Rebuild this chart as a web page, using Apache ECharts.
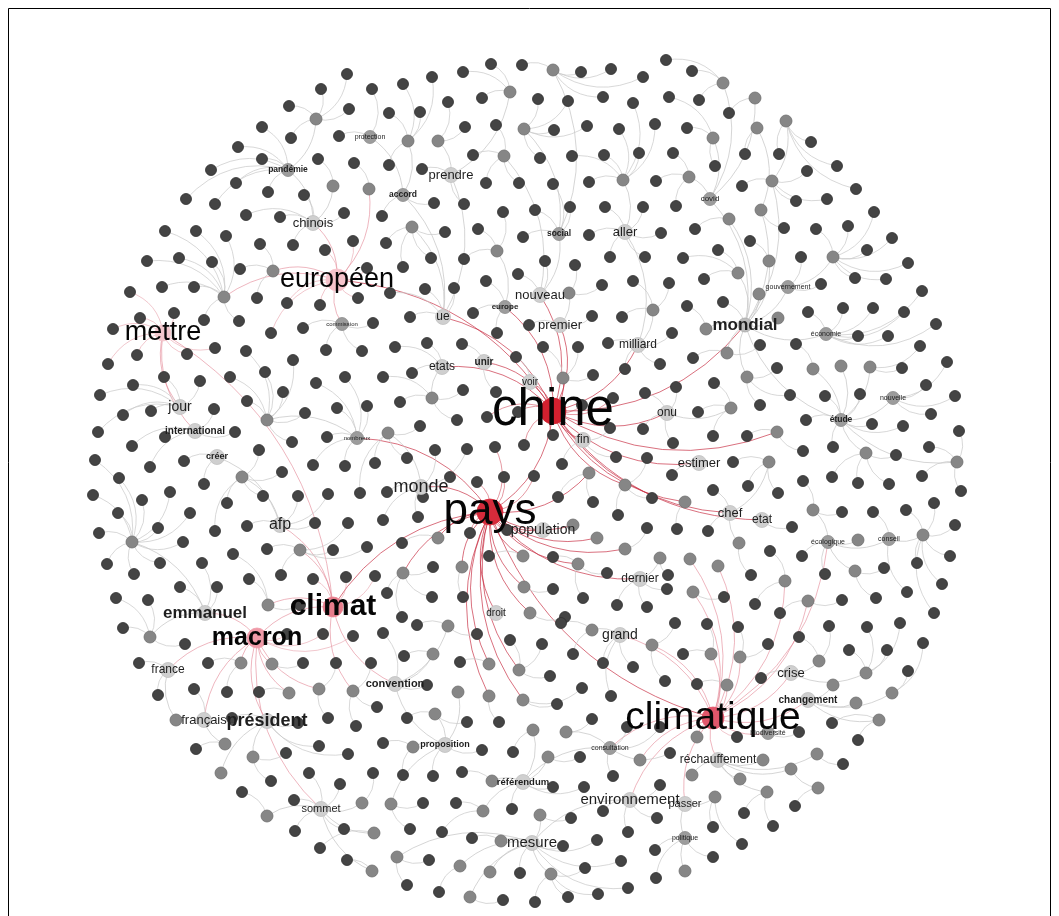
<!DOCTYPE html>
<html><head><meta charset="utf-8">
<script src="https://cdn.jsdelivr.net/npm/echarts@6/dist/echarts.min.js"></script>
<style>html,body{margin:0;padding:0;background:#fff}#c{width:1059px;height:916px}</style>
</head><body><div id="c"></div>
<script>
// Named nodes (hubs + grey relay nodes): [id, x, y, parent]
const namedNodes = [
['chine',553,411,'pays'],['pays',490,512,null],['climatique',713,718,'pays'],['climat',333,607,'pays'],
['macron',257,638,'climat'],['européen',337,280,'chine'],['mettre',163,333,'climat'],['mondial',745,325,'chine'],
['g1',316,119,'pandémie'],['protection',370,137,'accord'],['pandémie',288,170,'chinois'],['g2',333,186,'chinois'],
['g3',369,189,'européen'],['chinois',313,223,'européen'],['g4',273,271,'européen'],['g5',224,297,'européen'],
['commission',342,324,'européen'],['g6',553,70,'social'],['g7',510,92,'prendre'],['g8',524,129,'social'],
['g9',408,141,'accord'],['g10',438,141,'prendre'],['g11',504,156,'nouveau'],['prendre',451,175,'ue'],
['g12',623,180,'aller'],['accord',403,195,'ue'],['g13',412,227,'ue'],['social',559,234,'nouveau'],
['aller',625,232,'milliard'],['g14',497,251,'europe'],['nouveau',540,295,'chine'],['g15',569,293,'premier'],
['europe',505,307,'chine'],['ue',443,317,'chine'],['premier',560,325,'chine'],['g16',653,310,'milliard'],
['milliard',638,345,'chine'],['g17',723,83,'covid'],['g18',755,98,'covid'],['g19',713,138,'covid'],
['g20',757,128,'g24'],['g21',786,121,'g23'],['g22',689,177,'covid'],['g23',772,181,'mondial'],
['covid',710,199,'mondial'],['g24',761,210,'mondial'],['g25',729,219,'mondial'],['g26',769,261,'mondial'],
['g27',833,257,'gouvernement'],['g28',738,273,'mondial'],['gouvernement',788,287,'mondial'],['g29',759,294,'mondial'],
['g30',778,318,'mondial'],['g31',706,329,'mondial'],['économie',826,334,'mondial'],
['jour',180,407,'mettre'],['g32',267,420,'nombreux'],['international',195,431,'mettre'],['nombreux',357,438,'pays'],
['créer',217,457,'afp'],['g33',242,477,'afp'],['gA',132,542,'emmanuel'],['afp',280,525,'climat'],
['g34',300,550,'climat'],['g35',268,605,'climat'],['emmanuel',205,613,'macron'],
['unir',484,362,'chine'],['etats',442,367,'chine'],['voir',530,382,'chine'],['g36',563,378,'chine'],
['g37',432,398,'etats'],['onu',667,413,'chine'],['g38',388,433,'monde'],['fin',583,440,'chine'],
['g39',589,473,'pays'],['g40',625,485,'chine'],['monde',421,487,'pays'],['population',543,530,'pays'],
['g41',573,525,'pays'],['g42',438,538,'pays'],['g43',597,538,'pays'],['g44',625,549,'pays'],
['g45',660,558,'dernier'],['g46',403,573,'pays'],['g47',462,567,'pays'],['g48',523,556,'pays'],
['g49',578,564,'pays'],['dernier',640,579,'pays'],['g50',524,587,'pays'],['droit',496,613,'pays'],['g51',530,613,'pays'],
['g52',727,353,'mondial'],['g53',813,369,'étude'],['g54',841,366,'étude'],['g55',870,367,'étude'],
['nouvelle',893,398,'étude'],['g56',747,377,'mondial'],['g57',731,408,'onu'],['étude',841,420,'mondial'],
['g58',777,432,'chine'],['g59',866,453,'étude'],['g60',957,462,'étude'],['estimer',699,463,'chine'],
['g61',769,462,'chef'],['g62',685,502,'chine'],['g63',813,510,'écologique'],['chef',730,513,'chine'],
['etat',762,520,'chine'],['g64',923,535,'conseil'],['écologique',828,542,'climatique'],['g65',858,540,'écologique'],
['conseil',889,539,'écologique'],['g66',739,543,'chef'],['g67',690,559,'climatique'],['g68',718,566,'climatique'],
['g69',855,571,'écologique'],['g70',785,581,'climatique'],['g71',693,592,'climatique'],['g72',808,601,'climatique'],
['g73',150,637,'emmanuel'],['france',168,670,'macron'],['g74',241,663,'macron'],['g75',272,664,'macron'],
['g76',289,693,'macron'],['g77',319,689,'macron'],['g78',353,691,'climat'],['g79',176,720,'france'],
['français',204,720,'macron'],['président',267,721,'macron'],['g80',225,744,'français'],['g81',253,757,'président'],
['g82',221,773,'président'],['g83',267,816,'sommet'],['sommet',321,809,'macron'],['g84',362,803,'sommet'],
['g85',374,833,'sommet'],['g86',372,871,'sommet'],
['g87',448,626,'convention'],['g88',592,630,'grand'],['grand',620,635,'climatique'],['g89',652,645,'climatique'],
['g90',433,654,'convention'],['g91',489,664,'pays'],['g92',519,670,'pays'],['convention',395,684,'climat'],
['g93',458,692,'proposition'],['g94',489,696,'pays'],['g95',523,700,'pays'],['g96',435,714,'proposition'],
['g97',533,730,'référendum'],['g98',566,732,'consultation'],['g99',413,747,'proposition'],['proposition',445,745,'convention'],
['g100',548,757,'référendum'],['consultation',610,748,'climatique'],['g101',640,760,'climatique'],['g102',492,781,'référendum'],
['référendum',523,782,'consultation'],['g103',391,804,'proposition'],['g104',483,811,'référendum'],['g105',540,815,'mesure'],
['environnement',630,800,'climatique'],['g106',501,841,'mesure'],['mesure',532,843,'environnement'],['g107',397,857,'mesure'],
['g108',460,866,'mesure'],['g109',490,872,'mesure'],['g110',551,874,'mesure'],['g111',470,897,'mesure'],
['g112',711,654,'climatique'],['g113',740,657,'climatique'],['crise',791,673,'climatique'],['g114',819,661,'crise'],
['g115',833,685,'changement'],['g116',866,673,'crise'],['g117',727,685,'climatique'],['changement',808,700,'climatique'],
['g118',856,703,'changement'],['g119',892,693,'changement'],['biodiversité',768,733,'climatique'],['g120',879,720,'changement'],
['g121',697,737,'climatique'],['réchauffement',718,760,'climatique'],['g122',763,760,'réchauffement'],['g123',817,754,'réchauffement'],
['g124',692,775,'réchauffement'],['g125',740,779,'réchauffement'],['g126',791,769,'réchauffement'],['g127',818,788,'g126'],
['g128',767,792,'réchauffement'],['g129',715,797,'passer'],['passer',685,804,'climatique'],['politique',685,838,'passer'],
['g130',685,871,'politique']
];

// Leaf (dark) nodes grouped by the node they link to: target -> [[x,y],...]
const leaves = {
'g1':[[347,74],[321,89],[289,106],[349,109],[291,138]],
'protection':[[372,89],[339,136]],
'pandémie':[[262,127],[238,147],[262,159],[211,170],[236,183],[268,192],[186,199],[215,204]],
'g2':[[318,159]],
'g3':[[354,163]],
'chinois':[[304,195],[246,215],[344,213],[280,217],[293,245]],
'g5':[[165,231],[196,231],[226,236],[147,261],[179,258],[212,262],[162,287],[194,287],[204,320],[239,321]],
'g4':[[260,244],[240,269],[257,298]],
'européen':[[325,250],[353,241],[367,268],[287,303],[320,305],[358,298],[271,333]],
'mettre':[[130,292],[174,313],[140,318],[113,329],[108,364],[137,355],[187,354],[215,348]],
'commission':[[373,323],[303,328],[326,350],[362,351]],
'g7':[[463,72],[491,64],[482,98]],
'g6':[[522,65],[581,72],[611,69],[643,77],[603,97]],
'g17':[[666,60],[692,71],[699,100]],
'g9':[[432,77],[403,84],[389,113],[420,112],[389,165]],
'g8':[[538,99],[568,101],[554,130],[587,126],[540,158]],
'g12':[[633,103],[619,129],[655,124],[572,156],[604,155],[639,153],[589,182]],
'g19':[[669,97],[687,128],[715,166]],
'g10':[[448,102],[465,127]],
'g11':[[496,125],[473,155],[486,183],[519,183]],
'g22':[[673,153],[656,181],[676,206]],
'prendre':[[422,169],[464,204]],
'social':[[553,184],[535,210],[570,207],[523,237]],
'accord':[[434,203],[382,216]],
'g14':[[503,212],[478,229],[464,259]],
'aller':[[605,207],[643,207],[589,235],[661,233],[610,257],[645,257]],
'g13':[[445,232],[386,243],[403,267],[431,258]],
'nouveau':[[545,261],[518,274]],
'g15':[[575,265],[602,285]],
'europe':[[486,281],[473,313],[497,333]],
'g16':[[633,281],[669,283],[622,317]],
'ue':[[390,293],[425,289],[454,288],[410,317]],
'premier':[[529,325],[592,316]],
'milliard':[[672,333],[608,343],[625,369],[660,364]],
'g18':[[729,113]],
'g21':[[811,142],[779,154],[837,166],[856,189]],
'g20':[[745,154]],
'g23':[[807,171],[742,186],[796,201],[827,199]],
'g27':[[874,212],[816,229],[848,226],[892,238],[867,250],[908,263],[855,278],[886,279]],
'g25':[[695,229]],
'g24':[[784,228]],
'g26':[[750,241]],
'g28':[[718,250],[683,258],[704,279]],
'gouvernement':[[801,257],[821,284]],
'économie':[[922,291],[843,308],[873,308],[904,312],[808,312],[936,324],[858,336],[888,336]],
'mondial':[[723,302]],
'g31':[[687,306]],
'g32':[[246,351],[293,360],[230,377],[265,372],[283,392],[247,401],[305,413],[292,442]],
'nombreux':[[316,383],[345,377],[337,408],[367,406],[327,437],[313,465],[345,466]],
'jour':[[100,395],[133,385],[164,377],[200,381],[123,415],[151,411],[98,432]],
'international':[[214,409],[132,446],[165,437],[235,432],[150,467]],
'g33':[[259,450],[282,472],[227,503],[263,496],[215,531]],
'gA':[[95,460],[119,478],[93,495],[142,500],[170,492],[118,513],[190,513],[158,528],[99,533],[183,542],[107,564],[160,563],[134,574]],
'créer':[[184,461],[204,484]],
'g38':[[375,463],[360,493],[420,426],[407,458]],
'afp':[[298,496],[328,494],[247,526],[315,523]],
'g34':[[348,523],[267,549],[333,550],[367,547],[281,575]],
'g35':[[233,554],[249,579],[300,605]],
'emmanuel':[[202,563],[180,587],[217,587]],
'climat':[[313,579],[346,577],[375,576]],
'g73':[[116,598],[148,600],[123,628],[185,644]],
'etats':[[395,347],[427,343],[412,373]],
'unir':[[462,344],[496,392]],
'voir':[[516,357]],
'g36':[[543,347],[578,347],[593,375]],
'g37':[[383,377],[463,390],[400,402],[457,420]],
'onu':[[676,387],[645,393],[643,429],[673,443]],
'chine':[[487,417],[518,412],[582,405],[613,398],[524,445],[553,435]],
'monde':[[467,449],[435,450],[450,477],[387,492],[423,497],[383,520],[418,517]],
'pays':[[495,447],[477,482],[504,477],[534,476],[507,530],[470,533]],
'fin':[[610,428],[562,464],[616,457]],
'g40':[[647,458],[652,498],[618,515]],
'estimer':[[672,475]],
'g39':[[558,497],[593,502]],
'g44':[[647,528]],
'g62':[[677,529]],
'g42':[[402,543]],
'g46':[[433,567],[387,593],[432,597],[402,617]],
'g48':[[489,556]],
'g49':[[553,557],[607,573],[583,598]],
'g45':[[668,575]],
'g47':[[463,597]],
'g50':[[553,589]],
'dernier':[[617,605],[647,607],[667,589]],
'g51':[[565,617]],
'g52':[[760,345],[693,358]],
'g53':[[796,344]],
'g55':[[920,346],[902,368]],
'nouvelle':[[947,362],[926,385],[955,396],[931,414]],
'g57':[[714,383],[698,412],[713,436]],
'g56':[[777,368],[790,395],[760,405]],
'étude':[[825,396],[860,394],[806,420],[872,424],[903,426],[833,447]],
'g60':[[959,431],[929,447],[922,476],[961,491]],
'g58':[[747,436],[803,451]],
'g59':[[896,455],[832,477],[858,483],[889,484]],
'g61':[[733,462],[748,486],[778,493]],
'g63':[[803,481],[842,512]],
'chef':[[713,490],[708,531]],
'g64':[[934,503],[906,510],[955,525],[917,563],[950,556],[942,584],[934,613]],
'conseil':[[873,512],[907,592]],
'etat':[[792,527]],
'g70':[[770,551],[755,604]],
'écologique':[[802,556],[825,574]],
'g69':[[884,568],[876,598]],
'g66':[[751,575]],
'g71':[[724,597]],
'g72':[[842,600],[780,613]],
'macron':[[287,634],[323,634],[353,636]],
'france':[[139,663],[158,695]],
'g74':[[208,663],[227,692]],
'g75':[[303,663]],
'g77':[[336,663],[328,718]],
'g78':[[371,663],[377,707],[356,726]],
'français':[[194,689]],
'g76':[[259,692]],
'président':[[232,718],[298,723],[319,746],[348,754]],
'g99':[[383,743],[403,775]],
'g80':[[196,749]],
'g81':[[286,753],[271,781]],
'sommet':[[309,773],[340,784],[294,800],[344,829],[295,831]],
'g84':[[373,773]],
'g83':[[242,792]],
'g85':[[320,848]],
'g86':[[347,860]],
'convention':[[383,633],[427,685]],
'g87':[[417,625],[477,634]],
'g92':[[510,640],[542,644],[550,676]],
'g88':[[561,623],[573,654]],
'g89':[[675,623],[665,681]],
'g90':[[404,656]],
'g91':[[460,662]],
'grand':[[603,663],[633,667],[611,696]],
'g95':[[557,704],[582,688]],
'g96':[[407,718],[467,722]],
'g94':[[499,722]],
'g98':[[592,719]],
'consultation':[[627,727],[660,727],[670,753],[613,776]],
'proposition':[[482,750],[433,776]],
'g97':[[513,752]],
'g100':[[580,757]],
'g102':[[462,772]],
'référendum':[[553,787],[584,787],[512,809]],
'environnement':[[660,785],[603,811],[657,818],[628,832]],
'g103':[[423,803],[410,829]],
'g104':[[456,803],[442,832]],
'g105':[[571,818]],
'g106':[[472,838]],
'mesure':[[563,846],[597,840],[520,873],[621,861],[628,888]],
'politique':[[655,850],[656,878],[713,857]],
'g107':[[429,860],[407,885]],
'g110':[[585,868],[535,902],[568,897],[598,894]],
'g108':[[439,892]],
'g111':[[503,900]],
'g112':[[707,624],[683,654]],
'g113':[[738,627],[768,644]],
'g114':[[799,637],[829,626]],
'g116':[[849,650],[867,627],[887,650],[900,623]],
'g119':[[923,643],[908,671]],
'crise':[[761,678]],
'g117':[[697,684]],
'climatique':[[737,737]],
'biodiversité':[[799,732]],
'g120':[[832,723],[858,740]],
'g123':[[843,764]],
'g128':[[744,813],[773,826]],
'g127':[[795,806]],
'g129':[[713,827],[742,844]]
};

// ---------- styles (kept apart from the data) ----------
const FONT = '"Liberation Sans", Arial, sans-serif';
const hubStyle = {
  'chine':{size:26,color:'#d3202f'}, 'pays':{size:26,color:'#d52b3b'},
  'climatique':{size:22,color:'#e2566b'}, 'climat':{size:20,color:'#e87d8c'},
  'macron':{size:20,color:'#f09aa8'}, 'européen':{size:22,color:'#f6c3cb'},
  'mettre':{size:16,color:'#f3c7cd'}
};
// label: [fontSize, bold, dx, dy]
const labelStyle = {
  'chine':[51,0,0,-11], 'pays':[44,0,-2,-12], 'climatique':[39,0,2,-9], 'climat':[30,1,1,-6],
  'macron':[25,1,-3,-5], 'européen':[27,0,0,-4], 'mettre':[27,0,-2,3], 'mondial':[17,1,0,-4],
  'emmanuel':[17,1,0,0], 'président':[18,1,0,0], 'afp':[16,0,0,0], 'monde':[18,0,0,-2],
  'environnement':[15,0,8,0], 'mesure':[15,0,0,0], 'grand':[14,0,0,0], 'population':[14,0,0,0],
  'jour':[14,0,0,0], 'chinois':[13,0,0,0], 'prendre':[13,0,0,0], 'aller':[13,0,0,0], 'nouveau':[13,0,0,0],
  'premier':[13,0,0,0], 'milliard':[12,0,0,0], 'ue':[12,0,0,0], 'etats':[12,0,0,0], 'fin':[12,0,0,0],
  'onu':[12,0,0,0], 'estimer':[13,0,0,0], 'chef':[13,0,0,0], 'etat':[12,0,0,0], 'dernier':[12,0,0,0],
  'crise':[13,0,0,0], 'français':[13,0,0,0], 'france':[12,0,0,0], 'sommet':[11,0,0,0], 'passer':[11,0,0,0],
  'réchauffement':[12,0,0,0], 'changement':[10,1,0,0], 'convention':[11,1,0,0], 'unir':[10,1,0,0],
  'voir':[10,0,0,0], 'international':[10,1,0,0], 'créer':[9,1,0,0], 'proposition':[9,1,0,0],
  'référendum':[9.5,1,0,0], 'droit':[10,0,0,0],
  'pandémie':[8.5,1,0,0], 'accord':[8.5,1,0,0], 'social':[8.5,1,0,0], 'europe':[8,1,0,0], 'étude':[8.5,1,0,0],
  'protection':[7,0,0,0], 'consultation':[7,0,0,0], 'biodiversité':[7,0,0,0], 'écologique':[7,0,0,0],
  'conseil':[7,0,0,0], 'nouvelle':[7,0,0,0], 'gouvernement':[7,0,0,0], 'économie':[7,0,0,0],
  'covid':[8,0,0,0], 'politique':[7,0,0,0], 'nombreux':[6,0,0,0], 'commission':[6,0,0,0]
};
const redHubs = {'chine':1,'pays':1};
const pinkHubs = {'climatique':1,'climat':1,'macron':1,'européen':1,'mettre':1};

const nodes = [], links = [];
namedNodes.forEach(([id,x,y,parent]) => {
  const hs = hubStyle[id], ls = labelStyle[id];
  let size = 12, color = '#868686', border = '#6e6e6e';
  if (hs) { size = hs.size; color = hs.color; border = hs.color; }
  else if (id === 'mondial') { size = 14; color = '#bdbdbd'; border = '#aaa'; }
  else if (ls && ls[0] >= 9) { size = 15; color = '#cfcfcf'; border = '#c0c0c0'; }
  else if (ls) { size = 13; color = '#9c9c9c'; border = '#8a8a8a'; }
  const node = {name:id, value:[x,y], symbolSize:size,
    itemStyle:{color:color, borderColor:border, borderWidth:0.8}};
  if (ls) {
    node.label = {show:true, position:'inside', formatter:id, fontFamily:FONT,
      fontSize:ls[0], fontWeight:ls[1]?'bold':'normal', color: ls[0] >= 20 ? '#050505' : '#1e1e1e',
      offset:[ls[2], ls[3]]};
  }
  nodes.push(node);
  if (parent) {
    let ls2 = {color:'#c4c4c4', width:0.8, opacity:0.9, curveness:0.25};
    if (redHubs[parent] || redHubs[id]) ls2 = {color:'#c62a3e', width:0.9, opacity:0.75, curveness:0.25};
    else if (pinkHubs[parent] || pinkHubs[id]) ls2 = {color:'#e28594', width:0.8, opacity:0.75, curveness:0.25};
    links.push({source:id, target:parent, lineStyle:ls2});
  }
});
let k = 0;
Object.keys(leaves).forEach(t => {
  leaves[t].forEach(([x,y]) => {
    const name = 'L' + (k++);
    nodes.push({name:name, value:[x,y], symbolSize:11,
      itemStyle:{color:'#444444', borderColor:'#2f2f2f', borderWidth:0.8}});
    let ls2 = {color:'#c8c8c8', width:0.8, opacity:0.9, curveness:0.3};
    if (redHubs[t]) ls2 = {color:'#cc3a4c', width:0.8, opacity:0.65, curveness:0.3};
    else if (pinkHubs[t]) ls2 = {color:'#e59aa6', width:0.8, opacity:0.7, curveness:0.3};
    links.push({source:name, target:t, lineStyle:ls2});
  });
});
// leaves first in draw order, hubs last
nodes.sort((a,b)=> (a.name[0]==='L'?0:1) - (b.name[0]==='L'?0:1));

const chart = echarts.init(document.getElementById('c'), null, {renderer:'canvas'});
chart.setOption({
  backgroundColor:'#ffffff',
  animation:false,
  grid:{left:8, right:8, top:8, bottom:0, show:false},
  xAxis:{type:'value', min:8, max:1051, show:false},
  yAxis:{type:'value', min:8, max:916, inverse:true, show:false},
  graphic:[{type:'polyline', silent:true, z:100,
    shape:{points:[[8.5,917],[8.5,8.5],[1050.5,8.5],[1050.5,917]]},
    style:{stroke:'#000', lineWidth:1, fill:null}}],
  series:[{
    type:'graph', coordinateSystem:'cartesian2d', silent:true,
    data:nodes, links:links,
    edgeSymbol:['none','none'],
    lineStyle:{curveness:0.3},
    emphasis:{disabled:true},
    labelLayout:{hideOverlap:false}
  }]
});
</script></body></html>
